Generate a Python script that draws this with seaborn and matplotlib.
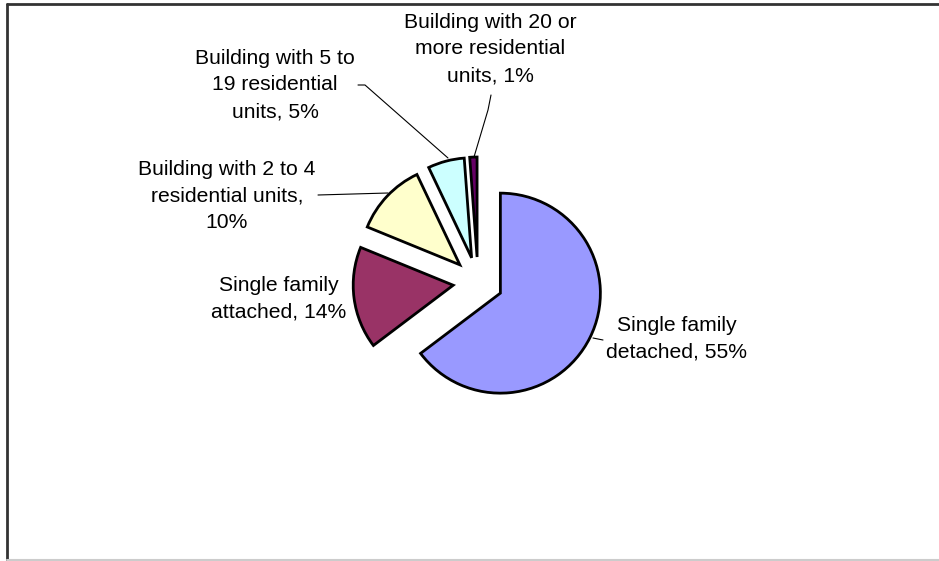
import matplotlib
matplotlib.use("Agg")
import matplotlib.pyplot as plt
import seaborn as sns

# categories and values as labelled in the chart
categories = ["Single family detached", "Single family attached",
              "Building with 2 to 4 residential units",
              "Building with 5 to 19 residential units",
              "Building with 20 or more residential units"]
shares = [55, 14, 10, 5, 1]
labels = ["Single family\ndetached, 55%",
          "Single family\nattached, 14%",
          "Building with 2 to 4\nresidential units,\n10%",
          "Building with 5 to\n19 residential\nunits, 5%",
          "Building with 20 or\nmore residential\nunits, 1%"]
colors = ["#9999FF", "#993366", "#FFFFCC", "#CCFFFF", "#660066"]

sns.set_theme(style="white")
plt.rcParams["font.family"] = ["Liberation Sans", "DejaVu Sans"]

fig = plt.figure(figsize=(9.39, 5.61), dpi=100)
ax = fig.add_axes([0, 0, 1, 1])

# pixel helpers (1 data unit = 100 px, pie centre at px (478, 282))
cx, cy = 478, 282
def px(x, y):
    return ((x - cx) / 100.0, (cy - y) / 100.0)

wedges, _ = ax.pie(shares, colors=colors, startangle=90, counterclock=False,
                   explode=[0.25] * len(shares), radius=1.0, center=(0, 0),
                   wedgeprops=dict(edgecolor="black", linewidth=2))
ax.set_xlim(-cx / 100.0, (939 - cx) / 100.0)
ax.set_ylim(-(561 - cy) / 100.0, cy / 100.0)
ax.set_aspect("auto")
ax.axis("off")

label_pos = [(677, 339), (279, 299), (227, 196), (275, 85), (490, 49)]
leaders = [
    [(593, 338), (603, 340)],
    None,
    [(318, 195), (388, 193)],
    [(358, 85), (365, 85), (448, 158)],
    [(491, 95), (488, 110), (474, 157)],
]
for text, (x, y), lead in zip(labels, label_pos, leaders):
    ax.text(*px(x, y), text, ha="center", va="center", fontsize=15.2,
            linespacing=1.52, color="black")
    if lead:
        xs, ys = zip(*[px(a, b) for a, b in lead])
        ax.plot(xs, ys, color="black", lw=0.8)

# chart area border
fig.add_artist(plt.Line2D([6.5 / 939, 1], [1 - 4 / 561, 1 - 4 / 561],
                          color="#333333", lw=2, transform=fig.transFigure))
fig.add_artist(plt.Line2D([6.5 / 939, 6.5 / 939], [0, 1 - 4 / 561],
                          color="#333333", lw=2, transform=fig.transFigure))
fig.add_artist(plt.Line2D([6.5 / 939, 1], [1.5 / 561, 1.5 / 561],
                          color="#cccccc", lw=1.5, transform=fig.transFigure))

fig.savefig("out.png", dpi=100)
